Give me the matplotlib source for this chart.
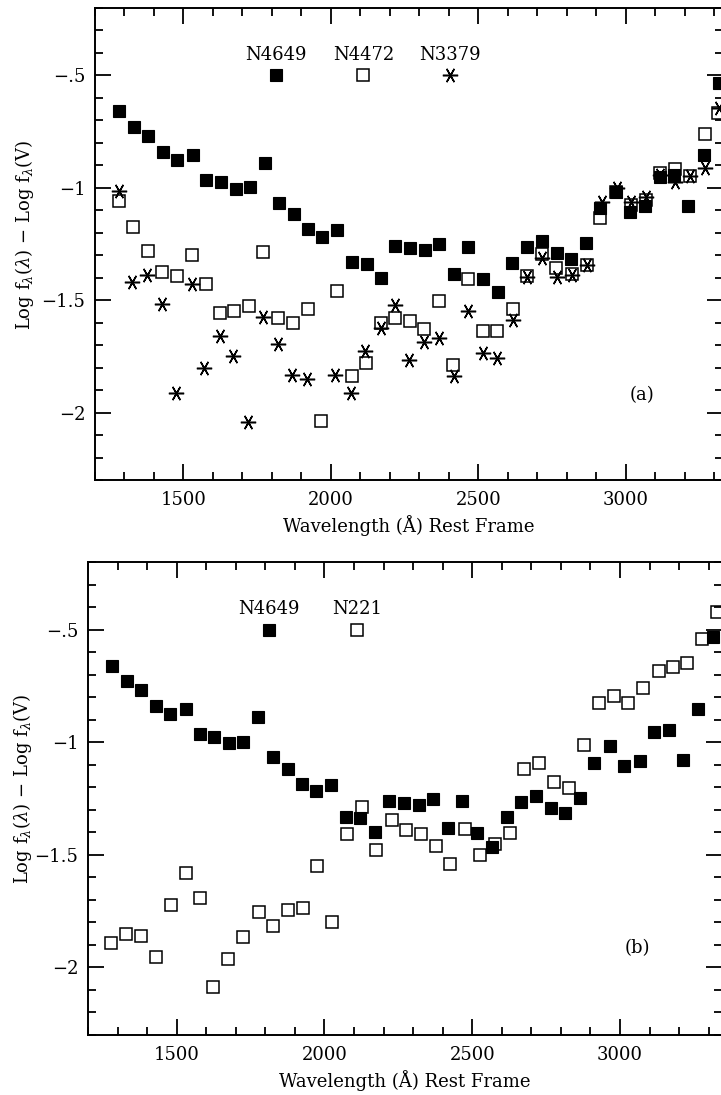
import matplotlib
matplotlib.use('Agg')
import matplotlib.pyplot as plt
from matplotlib.ticker import MultipleLocator, FuncFormatter

plt.rcParams['font.family'] = ['DejaVu Serif']
plt.rcParams['mathtext.fontset'] = 'dejavuserif'

# N4649 (filled squares, both panels)
n4649_x = [1281, 1332, 1380, 1431, 1479, 1531, 1578, 1627, 1678, 1725, 1776, 1825, 1875, 1924,
           1971, 2021, 2073, 2121, 2171, 2219, 2268, 2319, 2368, 2419, 2466, 2516, 2566, 2616,
           2664, 2715, 2766, 2814, 2866, 2912, 2966, 3015, 3066, 3116, 3165, 3212, 3265, 3316]
n4649_y = [-0.66, -0.73, -0.77, -0.84, -0.875, -0.852, -0.964, -0.975, -1.004, -0.997, -0.888,
           -1.066, -1.118, -1.185, -1.218, -1.188, -1.33, -1.338, -1.40, -1.26, -1.27, -1.278,
           -1.252, -1.383, -1.263, -1.405, -1.465, -1.334, -1.264, -1.237, -1.292, -1.315,
           -1.247, -1.092, -1.018, -1.107, -1.083, -0.954, -0.945, -1.08, -0.852, -0.532]

# N4472 (open squares, panel a)
n4472_x = [1281, 1330, 1379, 1426, 1477, 1528, 1577, 1624, 1673, 1722, 1771, 1822, 1873, 1921,
           1967, 2020, 2071, 2118, 2169, 2219, 2268, 2317, 2368, 2415, 2466, 2517, 2565, 2617,
           2664, 2715, 2764, 2817, 2868, 2913, 2967, 3017, 3069, 3117, 3167, 3218, 3269, 3314]
n4472_y = [-1.058, -1.173, -1.28, -1.375, -1.394, -1.30, -1.426, -1.555, -1.549, -1.527, -1.286,
           -1.578, -1.60, -1.54, -2.038, -1.459, -1.839, -1.78, -1.603, -1.581, -1.594, -1.63,
           -1.504, -1.788, -1.404, -1.636, -1.636, -1.54, -1.394, -1.296, -1.355, -1.382,
           -1.345, -1.135, -1.02, -1.075, -1.055, -0.932, -0.917, -0.947, -0.76, -0.667]

# N3379 (asterisks, panel a)
n3379_x = [1282, 1324, 1375, 1426, 1474, 1528, 1571, 1624, 1669, 1720, 1771, 1820, 1867, 1918,
           2014, 2068, 2116, 2169, 2218, 2266, 2317, 2368, 2418, 2466, 2515, 2562, 2617, 2664,
           2715, 2766, 2817, 2868, 2919, 2969, 3017, 3069, 3117, 3167, 3218, 3269, 3318]
n3379_y = [-1.013, -1.419, -1.389, -1.515, -1.913, -1.426, -1.802, -1.658, -1.748, -2.043,
           -1.577, -1.696, -1.832, -1.851, -1.832, -1.913, -1.726, -1.625, -1.52, -1.766,
           -1.684, -1.666, -1.839, -1.549, -1.736, -1.758, -1.589, -1.397, -1.311, -1.397,
           -1.389, -1.345, -1.065, -0.999, -1.065, -1.043, -0.945, -0.976, -0.947, -0.91, -0.644]

# N221 (open squares, panel b)
n221_x = [1277, 1329, 1378, 1429, 1480, 1530, 1579, 1624, 1675, 1726, 1778, 1825, 1875, 1926,
          1976, 2025, 2076, 2127, 2175, 2227, 2275, 2327, 2377, 2426, 2477, 2525, 2578, 2627,
          2674, 2727, 2776, 2826, 2877, 2928, 2979, 3026, 3078, 3131, 3180, 3227, 3278, 3329]
n221_y = [-1.891, -1.85, -1.862, -1.953, -1.722, -1.582, -1.692, -2.085, -1.964, -1.864, -1.756,
          -1.815, -1.747, -1.737, -1.548, -1.798, -1.406, -1.288, -1.479, -1.347, -1.39, -1.409,
          -1.462, -1.541, -1.384, -1.501, -1.453, -1.403, -1.119, -1.093, -1.178, -1.203,
          -1.013, -0.825, -0.796, -0.825, -0.759, -0.685, -0.668, -0.648, -0.541, -0.421]

# key symbols drawn inside the plot
key_a = [('N4649', 1814, 'filled'), ('N4472', 2110, 'open'), ('N3379', 2405, 'star')]
key_b = [('N4649', 1811, 'filled'), ('N221', 2110, 'open')]

FS = 13
star = (6, 2, 90)


def draw(ax, kind, x, y):
    if kind == 'filled':
        ax.plot(x, y, 's', ms=8.6, mfc='black', mec='black', mew=0.8, ls='none')
    elif kind == 'open':
        ax.plot(x, y, 's', ms=8.2, mfc='none', mec='black', mew=1.1, ls='none')
    else:
        ax.plot(x, y, marker=star, ms=11, mec='black', mew=1.1, ls='none')


def style(ax, xmax):
    ax.set_xlim(1200, xmax)
    ax.set_ylim(-2.3, -0.2)
    ax.xaxis.set_major_locator(MultipleLocator(500))
    ax.xaxis.set_minor_locator(MultipleLocator(100))
    ax.yaxis.set_major_locator(MultipleLocator(0.5))
    ax.yaxis.set_minor_locator(MultipleLocator(0.1))
    ax.yaxis.set_major_formatter(FuncFormatter(
        lambda v, p: ('\u2212' + ('%g' % -v).lstrip('0')) if v < 0 else '%g' % v))
    ax.tick_params(which='both', direction='in', top=True, right=True, width=1.3,
                   labelsize=FS)
    ax.tick_params(which='major', length=11.5)
    ax.tick_params(which='minor', length=5.8)
    ax.tick_params(axis='x', pad=8)
    ax.tick_params(axis='y', pad=7)
    for s in ax.spines.values():
        s.set_linewidth(1.4)
    ax.set_xlabel('Wavelength (\u00c5) Rest Frame', fontsize=FS, labelpad=4)
    ax.set_ylabel(r'Log f$_\lambda$($\lambda$) $-$ Log f$_\lambda$(V)', fontsize=FS)


fig = plt.figure(figsize=(7.21, 10.95), dpi=100)
ax1 = fig.add_axes([95 / 721, 1 - 480 / 1095, 628 / 721, 472 / 1095])
ax2 = fig.add_axes([88 / 721, 1 - 1035 / 1095, 634 / 721, 473 / 1095])

draw(ax1, 'filled', n4649_x, n4649_y)
draw(ax1, 'open', n4472_x, n4472_y)
draw(ax1, 'star', n3379_x, n3379_y)
for name, xk, kind in key_a:
    draw(ax1, kind, [xk], [-0.5])
    ax1.text(xk, -0.41, name, ha='center', va='center', fontsize=FS)
ax1.text(3054, -1.92, '(a)', ha='center', va='center', fontsize=FS)
style(ax1, 3330)
ax1.yaxis.set_label_coords(-0.094, 0.52)

draw(ax2, 'filled', n4649_x, n4649_y)
draw(ax2, 'open', n221_x, n221_y)
for name, xk, kind in key_b:
    draw(ax2, kind, [xk], [-0.5])
    ax2.text(xk, -0.41, name, ha='center', va='center', fontsize=FS)
ax2.text(3058, -1.913, '(b)', ha='center', va='center', fontsize=FS)
style(ax2, 3345)
ax2.yaxis.set_label_coords(-0.085, 0.52)

fig.savefig('out.png', dpi=100)
